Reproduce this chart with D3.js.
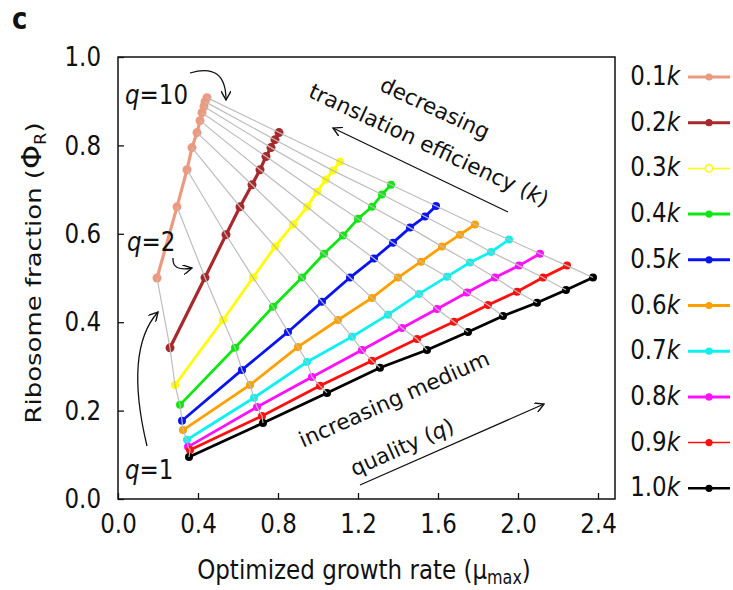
<!DOCTYPE html>
<html>
<head>
<meta charset="utf-8">
<script src="https://cdn.jsdelivr.net/npm/d3@7/dist/d3.min.js"></script>
<style>
  body { margin: 0; background: #fff; }
  text { font-family: "DejaVu Sans", sans-serif; fill: #111; }
</style>
</head>
<body>
<svg id="chart" width="733" height="590"></svg>
<script>
// translation efficiency levels (legend), one series each
const kLabels = ["0.1", "0.2", "0.3", "0.4", "0.5", "0.6", "0.7", "0.8", "0.9", "1.0"];

// optimized growth rate, q = 1..10 for each k
const growthRate = [
  [0.195, 0.295, 0.345, 0.37, 0.395, 0.41, 0.42, 0.43, 0.435, 0.445],
  [0.26, 0.435, 0.54, 0.61, 0.67, 0.71, 0.74, 0.765, 0.785, 0.805],
  [0.285, 0.525, 0.675, 0.785, 0.875, 0.945, 0.995, 1.04, 1.075, 1.11],
  [0.31, 0.585, 0.775, 0.92, 1.03, 1.125, 1.20, 1.27, 1.32, 1.365],
  [0.32, 0.62, 0.85, 1.02, 1.16, 1.28, 1.375, 1.46, 1.535, 1.59],
  [0.325, 0.66, 0.90, 1.10, 1.27, 1.40, 1.515, 1.62, 1.71, 1.785],
  [0.345, 0.68, 0.945, 1.17, 1.35, 1.505, 1.645, 1.76, 1.865, 1.955],
  [0.35, 0.695, 0.97, 1.22, 1.42, 1.595, 1.745, 1.885, 2.005, 2.11],
  [0.36, 0.72, 1.01, 1.27, 1.495, 1.68, 1.85, 1.995, 2.125, 2.245],
  [0.355, 0.725, 1.045, 1.31, 1.545, 1.75, 1.925, 2.095, 2.24, 2.375]
];

// ribosome fraction, q = 1..10 for each k
const riboFraction = [
  [0.50, 0.661, 0.745, 0.795, 0.829, 0.856, 0.874, 0.888, 0.899, 0.908],
  [0.342, 0.501, 0.598, 0.661, 0.711, 0.745, 0.775, 0.795, 0.813, 0.829],
  [0.258, 0.405, 0.501, 0.571, 0.621, 0.661, 0.695, 0.723, 0.743, 0.763],
  [0.213, 0.342, 0.435, 0.501, 0.555, 0.596, 0.634, 0.661, 0.689, 0.711],
  [0.177, 0.292, 0.378, 0.446, 0.501, 0.544, 0.580, 0.614, 0.639, 0.663],
  [0.156, 0.258, 0.344, 0.405, 0.455, 0.501, 0.537, 0.571, 0.598, 0.621],
  [0.134, 0.229, 0.310, 0.367, 0.417, 0.464, 0.503, 0.535, 0.559, 0.587],
  [0.118, 0.208, 0.276, 0.337, 0.387, 0.430, 0.467, 0.501, 0.528, 0.555],
  [0.111, 0.188, 0.256, 0.313, 0.362, 0.401, 0.439, 0.469, 0.501, 0.528],
  [0.095, 0.172, 0.240, 0.297, 0.337, 0.378, 0.414, 0.444, 0.473, 0.501]
];

const xTicks = [0.0, 0.4, 0.8, 1.2, 1.6, 2.0, 2.4];
const yTicks = [0.0, 0.2, 0.4, 0.6, 0.8, 1.0];

const colors = ["#ec9a7f", "#a8292b", "#ffff00", "#10e610", "#0a14f0", "#ffa000",
                "#10f0f0", "#ff10ff", "#ff1010", "#000000"];
const legendStroke = [3, 3, 1.5, 3, 3, 3, 3, 3, 1.5, 2.5];

const svg = d3.select("#chart");
const fs = 23;
const stretch = 1.18; // text in the figure is taller than wide

const x = d3.scaleLinear().domain([0, 2.485]).range([118, 615]);
const y = d3.scaleLinear().domain([0, 1]).range([499, 57]);

// text that is stretched vertically around its anchor point
function tallText(xp, yp, size, anchor) {
  return svg.append("g").attr("transform", `translate(${xp},${yp}) scale(1,${stretch})`)
    .append("text").attr("text-anchor", anchor || "start").style("font-size", size + "px");
}

// panel letter
tallText(12, 29, 26).style("font-weight", "bold").text("c");

// series lines and markers
const line = d3.line().x(d => x(d[0])).y(d => y(d[1]));

kLabels.forEach((k, i) => {
  const pts = growthRate[i].map((g, j) => [g, riboFraction[i][j]]);
  svg.append("path").datum(pts)
    .attr("d", line)
    .attr("fill", "none")
    .attr("stroke", colors[i])
    .attr("stroke-width", i < 2 ? 3.2 : 2.8);
  svg.append("g").selectAll("circle").data(pts).enter().append("circle")
    .attr("cx", d => x(d[0]))
    .attr("cy", d => y(d[1]))
    .attr("r", i < 2 ? 4.5 : 4)
    .attr("fill", colors[i]);
});

// iso-quality lines (same q across k)
for (let j = 0; j < 10; j++) {
  const pts = kLabels.map((k, i) => [growthRate[i][j], riboFraction[i][j]]);
  svg.append("path").datum(pts)
    .attr("d", line)
    .attr("fill", "none")
    .attr("stroke", "#bdbdbd")
    .attr("stroke-width", 1.2);
}

// axes with inward ticks
const xAxis = svg.append("g").attr("transform", "translate(0,499)")
  .call(d3.axisBottom(x).tickValues(xTicks).tickFormat(d3.format(".1f"))
    .tickSizeInner(-6).tickSizeOuter(0));
const yAxis = svg.append("g").attr("transform", "translate(118,0)")
  .call(d3.axisLeft(y).tickValues(yTicks).tickFormat(d3.format(".1f"))
    .tickSizeInner(-6).tickSizeOuter(0).tickPadding(17));
[xAxis, yAxis].forEach(a => {
  a.select(".domain").remove();
  a.selectAll("line").attr("stroke", "#111").attr("stroke-width", 1.3);
  a.selectAll("text").style("font-size", fs + "px").attr("fill", "#111");
});
xAxis.selectAll("text").attr("y", 0).attr("dy", "0.74em")
  .attr("transform", `translate(0,14) scale(1,${stretch})`);
yAxis.selectAll("text").attr("transform", `scale(1,${stretch})`);

svg.append("rect")
  .attr("x", 118).attr("y", 57).attr("width", 615 - 118).attr("height", 499 - 57)
  .attr("fill", "none").attr("stroke", "#111").attr("stroke-width", 1.5);

// axis titles
const xt = tallText(364, 579, 23, "middle");
xt.append("tspan").text("Optimized growth rate (\u03bc");
xt.append("tspan").attr("dy", 4).style("font-size", "16px").text("max");
xt.append("tspan").attr("dy", -4).text(")");

const yt = svg.append("text").attr("transform", `translate(41,273) scale(1,${stretch}) rotate(-90)`)
  .attr("text-anchor", "middle").style("font-size", "22px");
yt.append("tspan").text("Ribosome fraction (");
yt.append("tspan").style("font-size", "26px").text("\u03a6");
yt.append("tspan").attr("dy", 5).style("font-size", "15px").text("R");
yt.append("tspan").attr("dy", -5).text(")");

// legend
kLabels.forEach((k, i) => {
  const ly = 77 + i * 45.7;
  const t = tallText(680, ly + 8, fs, "end");
  t.append("tspan").text(k);
  t.append("tspan").style("font-style", "italic").text("k");
  svg.append("line").attr("x1", 688).attr("x2", 730).attr("y1", ly).attr("y2", ly)
    .attr("stroke", colors[i]).attr("stroke-width", legendStroke[i]);
  svg.append("circle").attr("cx", 709).attr("cy", ly).attr("r", 3.6)
    .attr("fill", i === 2 ? "#fff" : colors[i])
    .attr("stroke", colors[i]).attr("stroke-width", i === 2 ? 1.6 : 0);
});

// arrow heads
const defs = svg.append("defs");
defs.append("marker").attr("id", "head")
  .attr("viewBox", "0 0 10 10").attr("refX", 9).attr("refY", 5)
  .attr("markerWidth", 10).attr("markerHeight", 10)
  .attr("markerUnits", "userSpaceOnUse").attr("orient", "auto")
  .append("path").attr("d", "M0,0 L9,5 L0,10")
  .attr("fill", "none").attr("stroke", "#111").attr("stroke-width", 1.4);

const arrow = d => svg.append("path").attr("d", d)
  .attr("fill", "none").attr("stroke", "#111").attr("stroke-width", 1.3)
  .attr("marker-end", "url(#head)");

// q labels with curved arrows
function qLabel(xp, yp, val) {
  const t = tallText(xp, yp, 23);
  t.append("tspan").style("font-style", "italic").text("q");
  t.append("tspan").text("=" + val);
}
qLabel(125, 104, "10");
qLabel(127, 251, "2");
qLabel(125, 479, "1");
arrow("M190,73 Q226,62 226,100");
arrow("M173,258 Q172,272 192,268");
arrow("M147,446 Q124,350 158,312");

// straight arrows
arrow("M508,212 L333,128");
arrow("M360,485 L544,404");

// rotated annotations
function rotText(cx, cy, ang, parts) {
  const t = svg.append("text")
    .attr("transform", `translate(${cx},${cy}) rotate(${ang})`)
    .attr("text-anchor", "middle").attr("dy", "0.35em").style("font-size", "21.5px");
  parts.forEach(p => t.append("tspan").style("font-style", p[1] ? "italic" : "normal").text(p[0]));
}
rotText(435, 108, 25, [["decreasing", false]]);
rotText(429, 145, 25, [["translation efficiency (", false], ["k", true], [")", false]]);
rotText(394, 399, -24, [["increasing medium", false]]);
rotText(402, 447, -24, [["quality (", false], ["q", true], [")", false]]);
</script>
</body>
</html>
